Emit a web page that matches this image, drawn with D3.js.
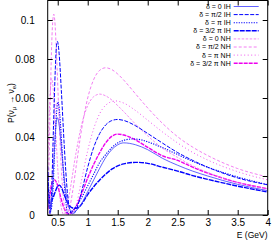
<!DOCTYPE html>
<html>
  <head>
    <script src="https://d3js.org/d3.v7.min.js"></script>
    <style>
      body { margin: 0; background-color: white; }
      text { font-family: 'Liberation Sans', Arial, sans-serif; fill: black; }
    </style>
  </head>
  <body>
    <svg id="canvas" width="280" height="240"></svg>
    <script>
      // [E (GeV), P]
      const ih0 = [[0.333,0.012],[0.36,0.004],[0.38,0.003],[0.41,0.012],[0.44,0.03],[0.47,0.046],[0.49,0.05],[0.52,0.047],
        [0.56,0.035],[0.6,0.021],[0.65,0.009],[0.7,0.003],[0.76,0.0015],[0.8,0.002],[0.9,0.006],[1.0,0.012],[1.1,0.018],
        [1.2,0.024],[1.3,0.0295],[1.4,0.0335],[1.5,0.036],[1.6,0.037],[1.8,0.036],[2.0,0.0335],[2.25,0.029],[2.5,0.0255],
        [2.75,0.0225],[3.0,0.02],[3.5,0.0157],[4.0,0.0125]]
      const ihPi2 = [[0.333,0.025],[0.35,0.0094],[0.375,0.0005],[0.4,0.013],[0.43,0.046],[0.46,0.075],[0.48,0.087],[0.495,0.089],
        [0.52,0.084],[0.56,0.064],[0.61,0.035],[0.66,0.012],[0.7,0.003],[0.75,0.0005],[0.8,0.002],[0.9,0.0123],[1.0,0.0245],
        [1.1,0.0347],[1.2,0.0418],[1.3,0.0462],[1.4,0.0484],[1.5,0.049],[1.6,0.0485],[1.8,0.0457],[2.0,0.0418],[2.25,0.0368],
        [2.5,0.032],[2.75,0.028],[3.0,0.0245],[3.5,0.019],[4.0,0.0155]]
      const ihPi = [[0.333,0.022],[0.36,0.01],[0.39,0.003],[0.42,0.012],[0.45,0.034],[0.48,0.052],[0.5,0.058],[0.52,0.056],
        [0.55,0.045],[0.58,0.029],[0.62,0.012],[0.67,0.0005],[0.72,0.0015],[0.8,0.004],[0.9,0.009],[1.0,0.015],[1.1,0.021],
        [1.2,0.027],[1.3,0.031],[1.4,0.0345],[1.5,0.037],[1.6,0.0383],[1.75,0.039],[1.9,0.0385],[2.0,0.0375],[2.25,0.0345],
        [2.5,0.031],[2.75,0.0275],[3.0,0.0245],[3.5,0.0195],[4.0,0.0155]]
      const ih3Pi2 = [[0.333,0.008],[0.37,0.006],[0.41,0.008],[0.46,0.012],[0.5,0.0148],[0.53,0.0153],[0.57,0.0135],[0.62,0.0095],
        [0.68,0.0055],[0.74,0.0037],[0.8,0.0034],[0.87,0.0045],[0.95,0.008],[1.0,0.0105],[1.1,0.0145],[1.2,0.018],[1.3,0.021],
        [1.4,0.0235],[1.5,0.0252],[1.6,0.0262],[1.8,0.027],[2.0,0.0265],[2.25,0.0245],[2.5,0.0225],[2.75,0.0202],[3.0,0.0183],
        [3.5,0.0148],[4.0,0.0118]]
      const nh0 = [[0.333,0.0239],[0.35,0.0427],[0.37,0.0603],[0.4,0.07],[0.43,0.0626],[0.46,0.0466],[0.5,0.0242],[0.55,0.0055],
        [0.6,0.0003],[0.65,0.0035],[0.7,0.0117],[0.8,0.031],[0.9,0.0465],[1.0,0.0561],[1.1,0.0607],[1.2,0.062],[1.3,0.0611],
        [1.4,0.059],[1.5,0.0561],[1.6,0.053],[1.8,0.0465],[2.0,0.0406],[2.25,0.0342],[2.5,0.0295],[2.75,0.0252],[3.0,0.0218],
        [3.5,0.0166],[4.0,0.0135]]
      const nhPi2 = [[0.333,0.0024],[0.34,0.0077],[0.36,0.0338],[0.38,0.064],[0.4,0.088],[0.42,0.1005],[0.435,0.103],[0.45,0.1],
        [0.48,0.0826],[0.52,0.0515],[0.56,0.024],[0.6,0.007],[0.65,0.0003],[0.7,0.0037],[0.75,0.0124],[0.8,0.0233],[0.9,0.0443],
        [1.0,0.06],[1.1,0.0695],[1.2,0.0742],[1.3,0.0755],[1.4,0.0746],[1.5,0.0723],[1.6,0.0692],[1.8,0.062],[2.0,0.0549],
        [2.25,0.0469],[2.5,0.0401],[2.75,0.0348],[3.0,0.0305],[3.5,0.0238],[4.0,0.0195]]
      const nhPi = [[0.333,0.016],[0.35,0.0035],[0.365,0.0003],[0.38,0.0035],[0.41,0.0235],[0.44,0.045],[0.487,0.058],[0.53,0.0497],
        [0.58,0.0305],[0.63,0.0132],[0.68,0.003],[0.73,0.0003],[0.8,0.0043],[0.9,0.0183],[1.0,0.033],[1.1,0.0443],[1.2,0.052],
        [1.3,0.0563],[1.46,0.0585],[1.6,0.0574],[1.8,0.0535],[2.0,0.0486],[2.25,0.0425],[2.5,0.0369],[2.75,0.0321],[3.0,0.0282],
        [3.5,0.0222],[4.0,0.018]]
      const nh3Pi2 = [[0.333,0.003],[0.36,0.008],[0.4,0.016],[0.45,0.018],[0.5,0.015],[0.55,0.009],[0.6,0.004],[0.66,0.0008],
        [0.7,0.0005],[0.75,0.002],[0.8,0.004],[0.9,0.011],[1.0,0.019],[1.1,0.026],[1.2,0.032],[1.3,0.037],[1.4,0.0403],
        [1.5,0.0415],[1.6,0.041],[1.8,0.0385],[2.0,0.0347],[2.25,0.0303],[2.5,0.028],[2.75,0.0245],[3.0,0.0215],[3.5,0.0167],
        [4.0,0.0135]]

      const xTicks = [0.5, 1, 1.5, 2, 2.5, 3, 3.5, 4]
      const yTicks = [0, 0.02, 0.04, 0.06, 0.08, 0.1]
      const labels = ['δ = 0 IH', 'δ = π/2 IH', 'δ = π IH', 'δ = 3/2 π IH',
                      'δ = 0 NH', 'δ = π/2 NH', 'δ = π NH', 'δ = 3/2 π NH']

      const blue = '#0000ff'
      const pink = '#ee00ee'
      const series = [
        { name: labels[0], data: ih0,    color: '#3a3aff', width: 0.8, dash: null },
        { name: labels[1], data: ihPi2,  color: blue, width: 1,   dash: '4,1.5' },
        { name: labels[2], data: ihPi,   color: blue, width: 1.1, dash: '1.2,1.3' },
        { name: labels[3], data: ih3Pi2, color: blue, width: 1.4, dash: '5,1' },
        { name: labels[4], data: nh0,    color: '#f070f0', width: 0.8, dash: '2.5,1.5' },
        { name: labels[5], data: nhPi2,  color: '#f070f0', width: 0.9, dash: '3,2' },
        { name: labels[6], data: nhPi,   color: '#ee55ee', width: 1,   dash: '1,2.5' },
        { name: labels[7], data: nh3Pi2, color: pink, width: 1.4, dash: '4,1' }
      ]

      const margin = { top: 0.5, right: 12.3, bottom: 25, left: 47.7 }
      const svg = d3.select('#canvas')
      const width = 280 - margin.left - margin.right
      const height = 240 - margin.top - margin.bottom
      const g = svg.append('g').attr('transform', `translate(${margin.left}, ${margin.top})`)

      const x = d3.scaleLinear().domain([0.333, 4]).range([0, width])
      const y = d3.scaleLinear().domain([0, 0.11]).range([height, 0])

      g.append('clipPath').attr('id', 'plotClip')
        .append('rect').attr('width', width).attr('height', height)

      // curves
      const line = d3.line().x(d => x(d[0])).y(d => y(d[1])).curve(d3.curveMonotoneX)
      const curves = g.append('g').attr('clip-path', 'url(#plotClip)')
      series.slice().reverse().forEach(s => {
        curves.append('path')
          .attr('d', line(s.data))
          .attr('fill', 'none')
          .attr('stroke', s.color)
          .attr('stroke-width', s.width)
          .attr('stroke-dasharray', s.dash)
      })

      // axes, ticks inside and mirrored
      const tickLen = 5
      const axisB = d3.axisBottom(x).tickValues(xTicks).tickSize(-tickLen).tickPadding(4).tickFormat(d3.format('~g'))
      const axisT = d3.axisTop(x).tickValues(xTicks).tickSize(-tickLen).tickFormat('')
      const axisL = d3.axisLeft(y).tickValues(yTicks).tickSize(-tickLen).tickPadding(13).tickFormat(d3.format('~g'))
      const axisR = d3.axisRight(y).tickValues(yTicks).tickSize(-tickLen).tickFormat('')

      const styleAxis = sel => {
        sel.select('.domain').remove()
        sel.selectAll('line').attr('stroke', '#000').attr('stroke-width', 1)
        sel.selectAll('text').attr('font-size', '10px').attr('font-family', "'Liberation Sans', Arial, sans-serif")
      }
      g.append('g').attr('transform', `translate(0, ${height})`).call(axisB).call(styleAxis)
      g.append('g').call(axisT).call(styleAxis)
      g.append('g').call(axisL).call(styleAxis)
      g.append('g').attr('transform', `translate(${width}, 0)`).call(axisR).call(styleAxis)

      g.append('rect')
        .attr('width', width).attr('height', height)
        .attr('fill', 'none').attr('stroke', '#000').attr('stroke-width', 1)

      // legend
      const legend = g.append('g')
      labels.forEach((lab, i) => {
        const s = series[i]
        const ly = 6 + i * 8.1
        legend.append('text')
          .attr('x', 183).attr('y', ly).attr('dy', '0.35em')
          .attr('text-anchor', 'end').attr('font-size', '7px').text(lab)
        legend.append('line')
          .attr('x1', 186).attr('x2', 211).attr('y1', ly).attr('y2', ly)
          .attr('stroke', s.color).attr('stroke-width', s.width).attr('stroke-dasharray', s.dash)
      })

      // axis titles
      svg.append('text')
        .attr('x', 267.5).attr('y', 237.5).attr('text-anchor', 'end')
        .attr('font-size', '8.5px').text('E (GeV)')

      const yl = svg.append('text')
        .attr('transform', 'translate(14, 103) rotate(-90)')
        .attr('text-anchor', 'middle').attr('font-size', '8.5px')
      yl.append('tspan').text('P(ν')
      yl.append('tspan').attr('font-size', '6px').attr('dy', 2).text('μ')
      yl.append('tspan').attr('dy', -2).text(' → ν')
      yl.append('tspan').attr('font-size', '6px').attr('dy', 2).text('e')
      yl.append('tspan').attr('dy', -2).text(')')
    </script>
  </body>
</html>
